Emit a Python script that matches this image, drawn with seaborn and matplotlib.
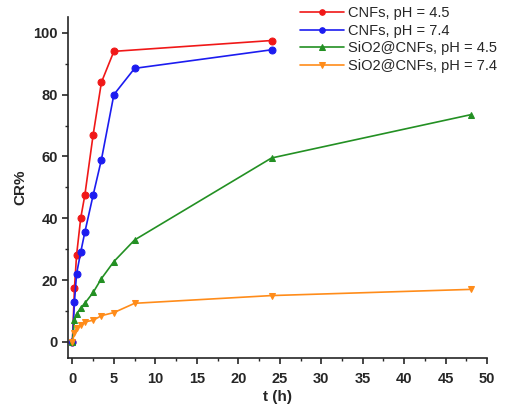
import numpy as np
import pandas as pd
import matplotlib
matplotlib.use("Agg")
import matplotlib.pyplot as plt
from matplotlib.ticker import MultipleLocator
import seaborn as sns

# ---- data ----
t_cnf45 = [0, 0.25, 0.5, 1, 1.5, 2.5, 3.5, 5, 24]
cr_cnf45 = [0, 17.5, 28, 40, 47.5, 67, 84, 94, 97.5]

t_cnf74 = [0, 0.25, 0.5, 1, 1.5, 2.5, 3.5, 5, 7.5, 24]
cr_cnf74 = [0, 13, 22, 29, 35.5, 47.5, 59, 80, 88.5, 94.5]

t_si45 = [0, 0.25, 0.5, 1, 1.5, 2.5, 3.5, 5, 7.5, 24, 48]
cr_si45 = [0, 7, 9, 11, 12.5, 16, 20.5, 26, 33, 59.5, 73.5]

t_si74 = [0, 0.25, 0.5, 1, 1.5, 2.5, 3.5, 5, 7.5, 24, 48]
cr_si74 = [0, 3, 4.5, 5.5, 6.5, 7, 8.5, 9.5, 12.5, 15, 17]

labels = ["CNFs, pH = 4.5", "CNFs, pH = 7.4",
          "SiO2@CNFs, pH = 4.5", "SiO2@CNFs, pH = 7.4"]
colors = ["#f01818", "#1c1cf0", "#239023", "#ff8c1a"]
markers = ["o", "o", "^", "v"]

series = [(t_cnf45, cr_cnf45), (t_cnf74, cr_cnf74),
          (t_si45, cr_si45), (t_si74, cr_si74)]

sns.set_style("ticks")
plt.rcParams["font.family"] = ["Liberation Sans", "DejaVu Sans"]

fig = plt.figure(figsize=(5.25, 4.08), dpi=100)
ax = fig.add_axes([0.13, 0.1225, 0.798, 0.835])

for (t, cr), lab, col, mk in zip(series, labels, colors, markers):
    df = pd.DataFrame({"t": t, "cr": cr})
    sns.lineplot(data=df, x="t", y="cr", ax=ax, color=col, marker=mk,
                 markersize=5, markeredgecolor=col, linewidth=1.2,
                 label=lab)

ax.set_xlim(-0.5, 50)
ax.set_ylim(-5.2, 105)
ax.xaxis.set_major_locator(MultipleLocator(5))
ax.xaxis.set_minor_locator(MultipleLocator(2.5))
ax.yaxis.set_major_locator(MultipleLocator(20))
ax.yaxis.set_minor_locator(MultipleLocator(10))
ax.tick_params(which="major", direction="out", length=4, width=1.2,
               labelsize=10.5)
ax.tick_params(axis="x", which="major", pad=6)
ax.tick_params(which="minor", direction="out", length=2.5, width=1)
for lbl in ax.get_xticklabels() + ax.get_yticklabels():
    lbl.set_fontweight("bold")

ax.set_xlabel("t (h)", fontsize=11, fontweight="bold", labelpad=3)
ax.set_ylabel("CR%", fontsize=11, fontweight="bold", labelpad=4)

sns.despine(ax=ax)
for s in ["left", "bottom"]:
    ax.spines[s].set_linewidth(1.2)

ax.legend(loc="upper left", bbox_to_anchor=(0.572, 0.985),
          bbox_transform=fig.transFigure, frameon=False,
          fontsize=10.5, handlelength=3, handletextpad=0.25,
          labelspacing=0.25, borderpad=0, borderaxespad=0, markerscale=0.8)

fig.savefig("out.png", dpi=100)
